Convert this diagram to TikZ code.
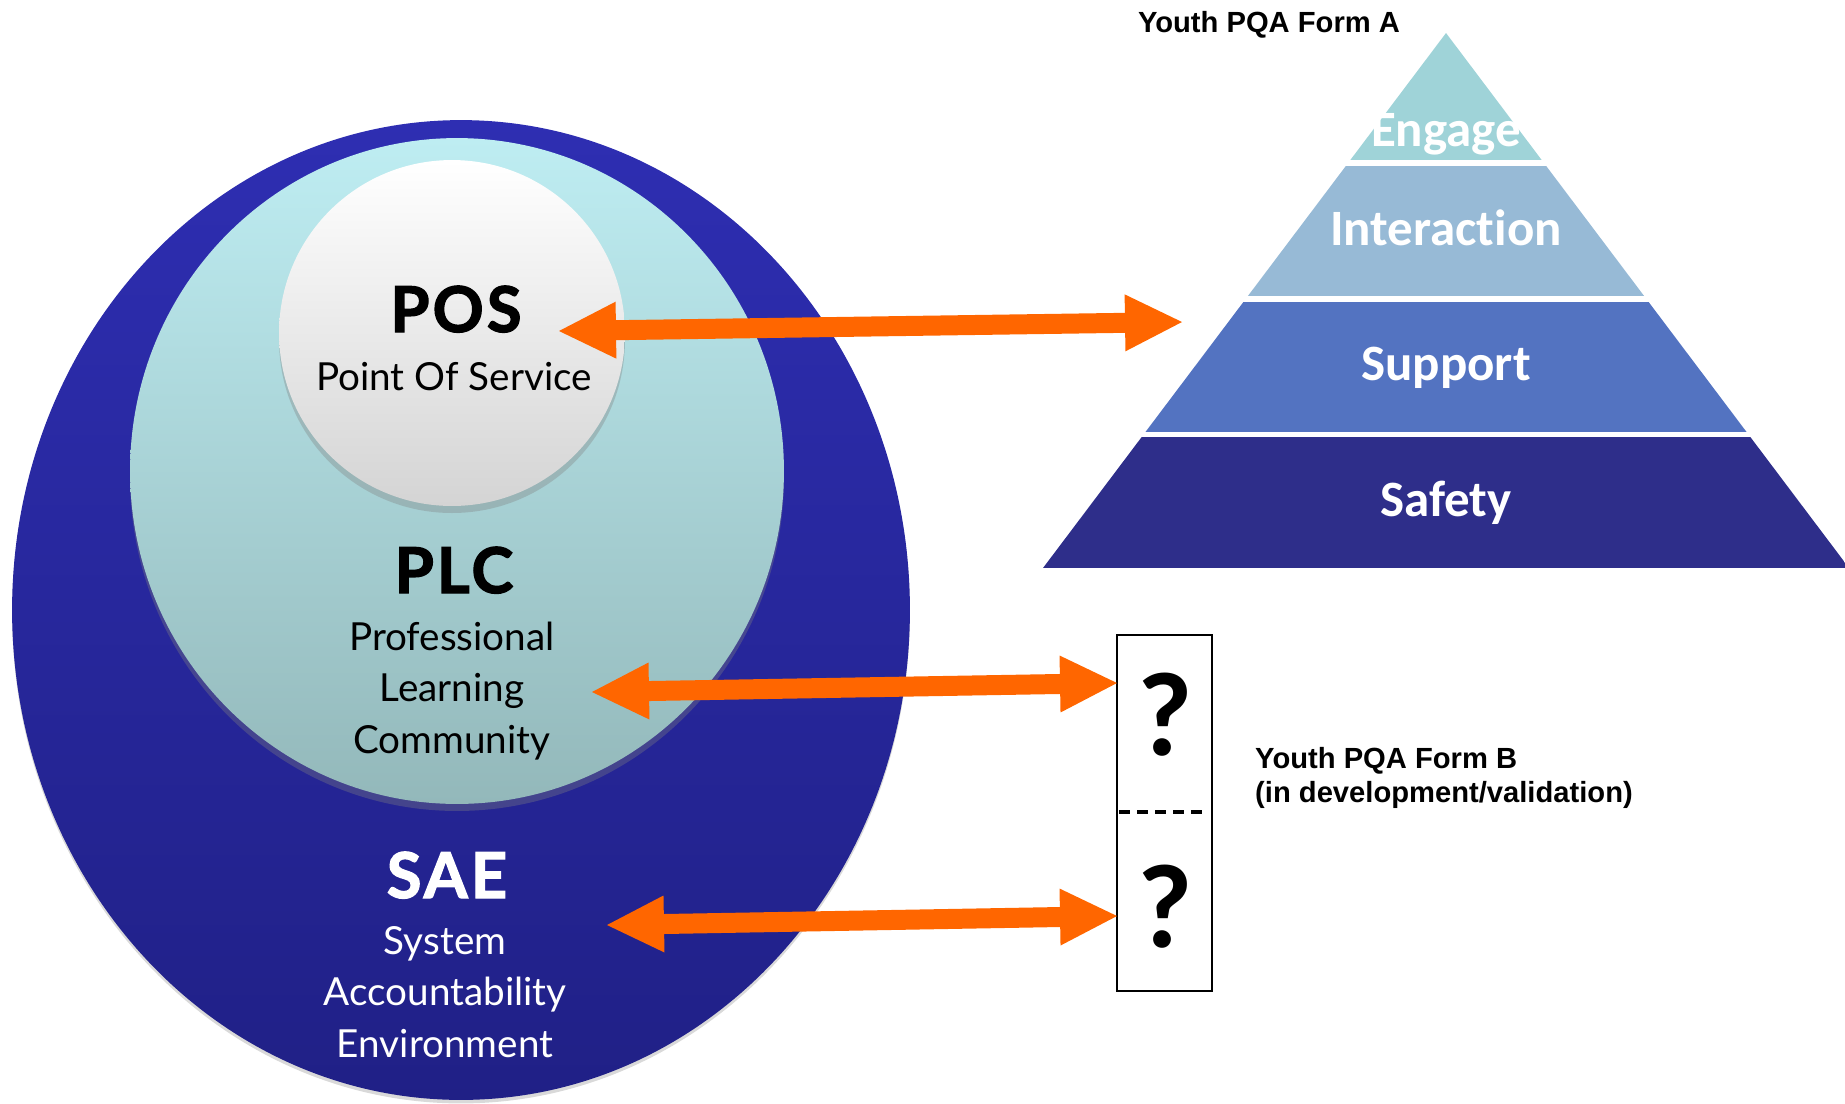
\documentclass[tikz,border=0pt]{standalone}
\usepackage{fontspec}
\setmainfont{Lato}
\newfontfamily\ringheavy{Lato}[LetterSpace=5, BoldFeatures={FakeBold=2}]
\newfontfamily\calibri{Carlito}[Ligatures=NoCommon]
\newfontfamily\arialfont{Liberation Sans}
\usetikzlibrary{arrows.meta,shapes.geometric,shadows}
\definecolor{saetop}{RGB}{46,46,178}
\definecolor{saebot}{RGB}{32,32,134}
\definecolor{plctop}{RGB}{190,237,242}
\definecolor{plcbot}{RGB}{147,184,186}
\definecolor{posbot}{RGB}{212,212,212}
\definecolor{pqaorange}{RGB}{255,102,0}
\definecolor{engteal}{RGB}{159,211,216}
\definecolor{intblue}{RGB}{151,186,214}
\definecolor{supblue}{RGB}{83,115,193}
\definecolor{safnavy}{RGB}{46,46,138}

\tikzset{
  ring/.style={ellipse, inner sep=0pt, shading=axis},
  ringtitle/.style={font=\ringheavy\bfseries\fontsize{36}{40}\selectfont, anchor=base},
  ringtext/.style={font=\fontsize{22}{26}\selectfont, anchor=base},
  level/.style={font=\calibri\bfseries\fontsize{29}{34}\selectfont, white, anchor=base},
  formlabel/.style={font=\arialfont\bfseries\fontsize{16.6}{20}\selectfont, anchor=base west},
  bothways/.style={{Triangle[length=1.14cm,width=1.14cm,line width=0pt]}-{Triangle[length=1.14cm,width=1.14cm,line width=0pt]}, pqaorange, line width=0.4cm},
}

\begin{document}
\begin{tikzpicture}[x=0.02cm, y=-0.02cm]
\useasboundingbox (0,0) rectangle (1845,1103);
% nested circles: SAE > PLC > POS
\node[ring, minimum width=17.96cm, minimum height=19.6cm, top color=saetop, bottom color=saebot,
  drop shadow={shadow xshift=0pt, shadow yshift=-2pt, opacity=0.3}] (sae) at (461,610) {};
\node[ring, minimum width=13.08cm, minimum height=13.32cm, top color=plctop, bottom color=plcbot,
  drop shadow={shadow xshift=0pt, shadow yshift=-4pt, opacity=0.35}] (plc) at (457,471) {};
\node[ring, minimum size=6.92cm, top color=white, bottom color=posbot,
  drop shadow={shadow xshift=0pt, shadow yshift=-4pt, opacity=0.35}] (pos) at (452,333) {};

% circle labels
\node[ringtitle] (posTitle) at (456,332) {POS};
\node[ringtext] (posName) at (454,390) {Point Of Service};
\node[ringtitle] (plcTitle) at (454,593) {PLC};
\foreach \txt/\y [count=\i] in {Professional/650, Learning/701, Community/753}
  \node[ringtext] (plc\i) at (452,\y) {\txt};
\node[ringtitle, white] (saeTitle) at (447,898) {SAE};
\foreach \txt/\y [count=\i] in {System/954, Accountability/1005, Environment/1057}
  \node[ringtext, white] (sae\i) at (445,\y) {\txt};

% pyramid, form A
\begin{scope}
\clip (1446,33) -- (1043,568) -- (1849,568) -- cycle;
\foreach \ya/\yb/\col in {0/160/engteal, 166/296/intblue, 302/432/supblue, 437/568/safnavy}
  \fill[\col] (1000,\ya) rectangle (1900,\yb);
\end{scope}
\node[level] (engage) at (1446,146) {Engage};
\node[level] (interaction) at (1446,245) {Interaction};
\node[level] (support) at (1446,380) {Support};
\node[level] (safety) at (1446,516) {Safety};
\node[formlabel, anchor=base] (formA) at (1269,32) {Youth PQA Form A};

% form B box
\node[draw, line width=1.5pt, inner sep=0pt, minimum width=1.9cm, minimum height=7.12cm] (formB) at (1164.5,813) {};
\draw[line width=1.8pt, dash pattern=on 0.21cm off 0.15cm] (1119,812) -- (1205,812);
\node[font=\calibri\bfseries\fontsize{68}{72}\selectfont] (q1) at (1165,715) {?};
\node[font=\calibri\bfseries\fontsize{68}{72}\selectfont] (q2) at (1165,907) {?};
\node[formlabel] (formBname) at (1249,768) {Youth PQA Form B};
\node[formlabel] (formBnote) at (1249,802) {(in development/validation)};

% arrows
\coordinate (posEnd) at (559,331);
\coordinate (formAEnd) at (1182,322);
\coordinate (plcEnd) at (592,692);
\coordinate (q1End) at (1117,683);
\coordinate (saeEnd) at (607,925);
\coordinate (q2End) at (1117,916);
\draw[bothways] (posEnd) -- (formAEnd);
\draw[bothways] (plcEnd) -- (q1End);
\draw[bothways] (saeEnd) -- (q2End);
\end{tikzpicture}
\end{document}
